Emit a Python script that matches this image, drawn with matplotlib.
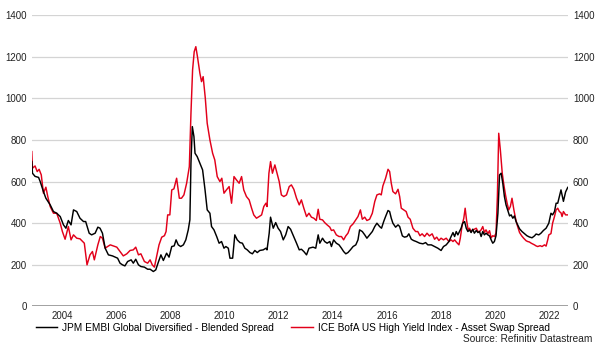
import matplotlib
matplotlib.use("Agg")
import matplotlib.pyplot as plt
from matplotlib.lines import Line2D

plt.rcParams['font.family'] = ['Liberation Sans', 'DejaVu Sans']

embi_years = [2002.88, 2002.905, 2003.00, 2003.13, 2003.19, 2003.31, 2003.40, 2003.56, 2003.68, 2003.80,
              2003.93, 2004.05, 2004.14, 2004.23, 2004.33, 2004.42, 2004.54, 2004.66, 2004.79, 2004.87,
              2005.00, 2005.09, 2005.22, 2005.32, 2005.40, 2005.49, 2005.59, 2005.71, 2005.86, 2005.96,
              2006.05, 2006.14, 2006.23, 2006.32, 2006.42, 2006.55, 2006.63, 2006.72, 2006.82, 2006.91,
              2007.04, 2007.16, 2007.25, 2007.37, 2007.46, 2007.55, 2007.65, 2007.74, 2007.86, 2007.95,
              2008.05, 2008.14, 2008.21, 2008.29, 2008.38, 2008.48, 2008.57, 2008.66, 2008.72, 2008.76,
              2008.81, 2008.87, 2008.91, 2008.99, 2009.09, 2009.19, 2009.28, 2009.36, 2009.46, 2009.52,
              2009.61, 2009.71, 2009.80, 2009.89, 2009.98, 2010.05, 2010.14, 2010.20, 2010.30, 2010.38,
              2010.47, 2010.57, 2010.66, 2010.75, 2010.84, 2010.94, 2011.03, 2011.12, 2011.21, 2011.30,
              2011.43, 2011.53, 2011.57, 2011.65, 2011.70, 2011.80, 2011.89, 2011.98, 2012.07, 2012.17,
              2012.26, 2012.35, 2012.44, 2012.53, 2012.66, 2012.76, 2012.84, 2012.93, 2013.03, 2013.12,
              2013.27, 2013.37, 2013.46, 2013.52, 2013.62, 2013.70, 2013.79, 2013.89, 2013.95, 2014.03,
              2014.13, 2014.23, 2014.32, 2014.40, 2014.48, 2014.56, 2014.65, 2014.75, 2014.85, 2014.93,
              2014.99, 2015.09, 2015.18, 2015.26, 2015.36, 2015.46, 2015.55, 2015.63, 2015.73, 2015.80,
              2015.88, 2015.95, 2016.04, 2016.10, 2016.16, 2016.22, 2016.32, 2016.41, 2016.47, 2016.57,
              2016.65, 2016.74, 2016.81, 2016.90, 2016.98, 2017.08, 2017.21, 2017.33, 2017.43, 2017.51,
              2017.64, 2017.76, 2017.88, 2018.00, 2018.09, 2018.19, 2018.29, 2018.37, 2018.44, 2018.50,
              2018.56, 2018.62, 2018.68, 2018.74, 2018.80, 2018.87, 2018.93, 2018.99, 2019.05, 2019.11,
              2019.17, 2019.23, 2019.30, 2019.36, 2019.42, 2019.48, 2019.54, 2019.60, 2019.66, 2019.73,
              2019.79, 2019.85, 2019.91, 2019.97, 2020.03, 2020.10, 2020.16, 2020.22, 2020.28, 2020.34,
              2020.40, 2020.46, 2020.53, 2020.59, 2020.65, 2020.71, 2020.77, 2020.83, 2020.90, 2020.99,
              2021.08, 2021.17, 2021.26, 2021.36, 2021.45, 2021.51, 2021.61, 2021.69, 2021.78, 2021.88,
              2021.98, 2022.06, 2022.12, 2022.19, 2022.25, 2022.31, 2022.37, 2022.43, 2022.52, 2022.60,
              2022.68]
embi_values = [696, 640, 625, 620, 600, 552, 520, 488, 456, 448,
               432, 392, 376, 413, 392, 464, 456, 424, 408, 408,
               352, 344, 352, 381, 376, 352, 280, 248, 243, 237,
               232, 208, 200, 195, 216, 224, 208, 227, 200, 192,
               189, 179, 179, 168, 176, 211, 248, 221, 256, 237,
               288, 291, 320, 296, 288, 296, 320, 368, 416, 688,
               864, 816, 736, 720, 688, 656, 560, 464, 448, 384,
               368, 336, 304, 312, 280, 288, 280, 232, 232, 344,
               320, 307, 304, 280, 272, 259, 253, 269, 259, 269,
               272, 280, 272, 352, 429, 376, 403, 376, 360, 320,
               344, 384, 371, 344, 304, 272, 275, 264, 248, 280,
               285, 280, 344, 304, 328, 312, 304, 312, 288, 320,
               304, 296, 280, 264, 253, 259, 272, 288, 296, 320,
               368, 360, 344, 328, 344, 360, 384, 400, 384, 376,
               408, 432, 461, 456, 424, 400, 381, 392, 384, 339,
               333, 336, 349, 323, 317, 312, 304, 301, 307, 296,
               296, 288, 280, 269, 288, 296, 312, 336, 355, 336,
               360, 344, 360, 376, 400, 408, 376, 360, 368, 355,
               371, 352, 365, 355, 360, 336, 360, 344, 352, 344,
               339, 320, 304, 312, 340, 448, 632, 640, 592, 528,
               488, 464, 435, 440, 424, 435, 408, 392, 373, 360,
               350, 340, 334, 330, 339, 348, 344, 352, 365, 376,
               400, 448, 440, 456, 496, 496, 528, 560, 505, 550,
               572]

hy_years = [2002.88, 2002.905, 2003.00, 2003.08, 2003.15, 2003.23, 2003.31, 2003.40, 2003.47, 2003.56,
            2003.68, 2003.80, 2003.93, 2004.01, 2004.11, 2004.23, 2004.33, 2004.42, 2004.54, 2004.66,
            2004.82, 2004.92, 2005.03, 2005.12, 2005.19, 2005.32, 2005.41, 2005.49, 2005.59, 2005.68,
            2005.78, 2005.89, 2006.02, 2006.14, 2006.26, 2006.39, 2006.51, 2006.63, 2006.72, 2006.82,
            2006.91, 2007.04, 2007.16, 2007.25, 2007.33, 2007.41, 2007.49, 2007.58, 2007.68, 2007.78,
            2007.84, 2007.90, 2007.98, 2008.05, 2008.13, 2008.23, 2008.33, 2008.41, 2008.50, 2008.60,
            2008.70, 2008.76, 2008.82, 2008.88, 2008.94, 2009.00, 2009.09, 2009.15, 2009.21, 2009.29,
            2009.36, 2009.46, 2009.56, 2009.64, 2009.73, 2009.83, 2009.90, 2009.98, 2010.07, 2010.17,
            2010.26, 2010.35, 2010.44, 2010.54, 2010.63, 2010.71, 2010.81, 2010.91, 2011.00, 2011.08,
            2011.18, 2011.28, 2011.37, 2011.45, 2011.53, 2011.57, 2011.64, 2011.70, 2011.77, 2011.86,
            2011.94, 2012.02, 2012.10, 2012.19, 2012.29, 2012.39, 2012.47, 2012.56, 2012.66, 2012.76,
            2012.84, 2012.93, 2013.03, 2013.12, 2013.21, 2013.30, 2013.39, 2013.46, 2013.52, 2013.62,
            2013.70, 2013.79, 2013.89, 2013.95, 2014.03, 2014.13, 2014.23, 2014.32, 2014.40, 2014.48,
            2014.56, 2014.65, 2014.75, 2014.85, 2014.93, 2015.02, 2015.09, 2015.18, 2015.26, 2015.36,
            2015.46, 2015.55, 2015.63, 2015.73, 2015.79, 2015.85, 2015.95, 2016.04, 2016.10, 2016.16,
            2016.22, 2016.32, 2016.41, 2016.47, 2016.53, 2016.62, 2016.71, 2016.78, 2016.86, 2016.96,
            2017.06, 2017.14, 2017.22, 2017.30, 2017.39, 2017.48, 2017.57, 2017.67, 2017.76, 2017.84,
            2017.92, 2018.00, 2018.09, 2018.19, 2018.29, 2018.37, 2018.44, 2018.50, 2018.58, 2018.66,
            2018.71, 2018.78, 2018.84, 2018.89, 2018.94, 2019.00, 2019.05, 2019.11, 2019.17, 2019.23,
            2019.30, 2019.36, 2019.42, 2019.48, 2019.54, 2019.60, 2019.66, 2019.73, 2019.79, 2019.85,
            2019.91, 2019.97, 2020.03, 2020.08, 2020.13, 2020.19, 2020.26, 2020.32, 2020.38, 2020.44,
            2020.50, 2020.56, 2020.62, 2020.69, 2020.75, 2020.81, 2020.90, 2020.98, 2021.05, 2021.14,
            2021.20, 2021.26, 2021.33, 2021.39, 2021.45, 2021.51, 2021.57, 2021.66, 2021.73, 2021.82,
            2021.88, 2021.94, 2021.98, 2022.06, 2022.12, 2022.19, 2022.25, 2022.31, 2022.37, 2022.43,
            2022.47, 2022.52, 2022.60, 2022.68]
hy_values = [744, 664, 675, 648, 659, 632, 544, 573, 528, 480,
             448, 448, 400, 360, 323, 384, 320, 344, 328, 325,
             304, 200, 248, 264, 224, 296, 336, 328, 280, 288,
             296, 291, 285, 264, 243, 253, 269, 272, 285, 248,
             253, 216, 208, 224, 200, 189, 240, 296, 333, 340,
             360, 440, 440, 560, 565, 616, 520, 520, 536, 592,
             672, 928, 1136, 1224, 1248, 1200, 1120, 1080, 1104, 1000,
             880, 800, 736, 704, 624, 600, 616, 544, 560, 576,
             496, 624, 608, 592, 624, 560, 528, 512, 472, 440,
             424, 432, 440, 480, 496, 480, 640, 696, 640, 680,
             640, 600, 536, 528, 536, 576, 584, 563, 520, 488,
             512, 472, 432, 448, 429, 424, 413, 467, 419, 416,
             403, 392, 381, 365, 368, 344, 336, 336, 320, 339,
             352, 384, 397, 416, 432, 464, 419, 429, 413, 419,
             448, 504, 536, 541, 536, 579, 616, 659, 648, 592,
             552, 541, 563, 528, 472, 464, 456, 429, 419, 376,
             360, 360, 340, 349, 336, 352, 339, 349, 323, 333,
             317, 328, 320, 328, 312, 320, 312, 320, 307, 296,
             328, 392, 424, 472, 416, 368, 376, 360, 368, 371,
             376, 360, 360, 368, 384, 356, 368, 350, 364, 330,
             340, 336, 352, 528, 832, 752, 640, 584, 536, 496,
             464, 480, 520, 464, 424, 392, 355, 339, 328, 316,
             312, 310, 304, 300, 296, 291, 288, 292, 288, 296,
             290, 320, 344, 350, 400, 432, 464, 472, 456, 450,
             432, 456, 440, 440]

series_labels = ["JPM EMBI Global Diversified - Blended Spread",
                 "ICE BofA US High Yield Index - Asset Swap Spread"]
year_ticks = [2004, 2006, 2008, 2010, 2012, 2014, 2016, 2018, 2020, 2022]
value_ticks = [0, 200, 400, 600, 800, 1000, 1200, 1400]
source_text = "Source: Refinitiv Datastream"

black = "#000000"
red = "#e2001a"
fs_tick = 7
fs_text = 7.3

fig = plt.figure(figsize=(6.0, 3.46), dpi=100)
ax = fig.add_axes([0.053, 0.1142, 0.8937, 0.8424])

for v in value_ticks[1:]:
    ax.axhline(v, color="#d4d4d4", lw=0.9, zorder=0)
ax.axhline(0, color="#9a9a9a", lw=1.3, zorder=1)

ax.plot(embi_years, embi_values, color=black, lw=1.05, zorder=3)
ax.plot(hy_years, hy_values, color=red, lw=1.05, zorder=2)

ax.set_xlim(2002.88, 2022.69)
ax.set_ylim(0, 1400)
ax.set_xticks(year_ticks)
ax.set_xticklabels([str(y) for y in year_ticks])
ax.set_yticks(value_ticks)
ax.tick_params(axis='both', length=0, labelsize=fs_tick, colors="#222222")
ax.tick_params(axis='x', pad=3)
ax.tick_params(axis='y', pad=3.5, labelleft=True, labelright=True)
for s in ax.spines.values():
    s.set_visible(False)

handles = [Line2D([], [], color=black, lw=1.05), Line2D([], [], color=red, lw=1.05)]
fig.legend(handles, series_labels, loc='center left', bbox_to_anchor=(0.06, 0.052),
           ncol=2, frameon=False, fontsize=fs_text, handlelength=2.1, handletextpad=0.5,
           columnspacing=1.7, borderpad=0, borderaxespad=0)
fig.text(592 / 600, (346 - 339) / 346, source_text, ha='right', va='center',
         fontsize=fs_text, color="#222222")

fig.savefig("out.png", dpi=100)
